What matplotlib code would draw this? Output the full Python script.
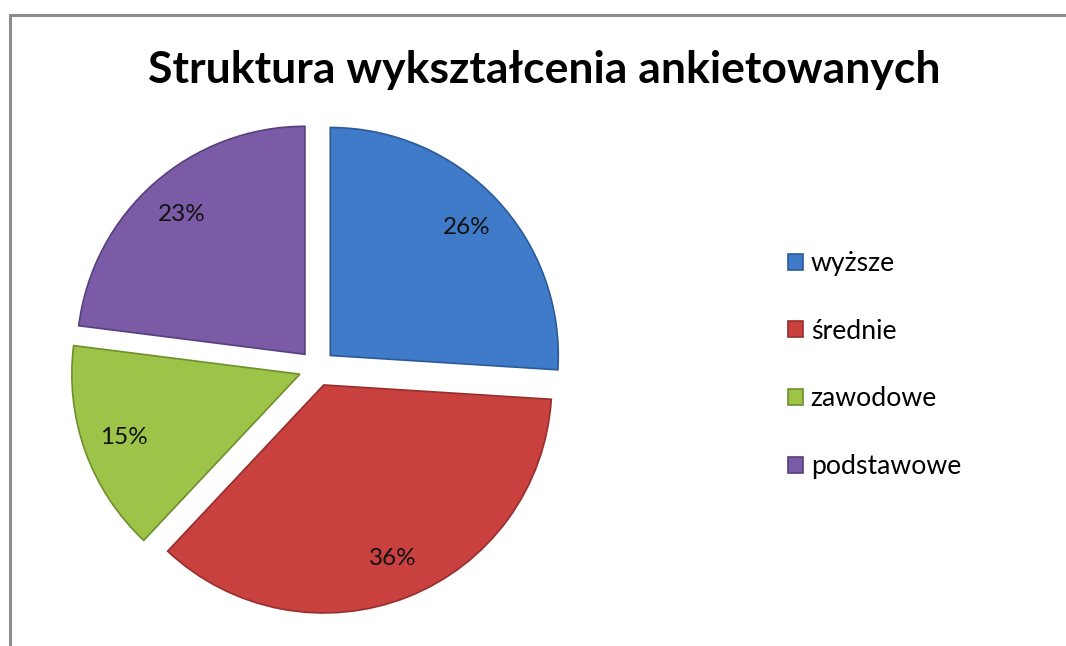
import matplotlib
matplotlib.use("Agg")
import matplotlib.pyplot as plt
from matplotlib.patches import Rectangle

plt.rcParams["font.family"] = ["Lato", "DejaVu Sans"]

# data
categories = ["wyższe", "średnie", "zawodowe", "podstawowe"]
shares = [26, 36, 15, 23]
colors = ["#3F7BC9", "#C8413F", "#9DC348", "#7C5BA6"]
edges = ["#2C5A99", "#962E2C", "#6E8F2C", "#583F7D"]
title = "Struktura wykształcenia ankietowanych"

W, H = 1066, 646
fig = plt.figure(figsize=(W / 100, H / 100), dpi=100)

# gray frame (left and top edges visible, the rest is cut off)
fig.add_artist(Rectangle((10 / W, -0.1), 1.2, 1.1 - 15 / H,
                         transform=fig.transFigure, fill=False,
                         edgecolor="#8c8c8c", linewidth=2.2))

# pie axes: centre ~ (317, 368) px, radius ~ 228 px
R = 228
lim = 1.1
side = 2 * lim * R
cx, cy = 317, H - 368
ax = fig.add_axes([(cx - side / 2) / W, (cy - side / 2) / H, side / W, side / H])

wedges, texts, autotexts = ax.pie(
    shares, colors=colors, startangle=90, counterclock=False,
    explode=[0.08] * len(shares), autopct="%d%%", pctdistance=0.82,
    wedgeprops=dict(linewidth=1.2),
    textprops=dict(fontsize=17.5, color="#111111"),
)
for w, e in zip(wedges, edges):
    w.set_edgecolor(e)
ax.set_xlim(-lim, lim)
ax.set_ylim(-lim, lim)
ax.set_aspect("equal")
ax.axis("off")

fig.text(544 / W, 1 - 70 / H, title, ha="center", va="center",
         fontsize=32, fontweight="bold", color="#000000")

leg = fig.legend(wedges, categories, loc="center left",
                 bbox_to_anchor=(764 / W, 1 - 365 / H), frameon=False,
                 fontsize=19.2, handlelength=0.55, handleheight=0.55,
                 handletextpad=0.3, labelspacing=1.6)

fig.savefig("out.png", dpi=100, facecolor="white")
